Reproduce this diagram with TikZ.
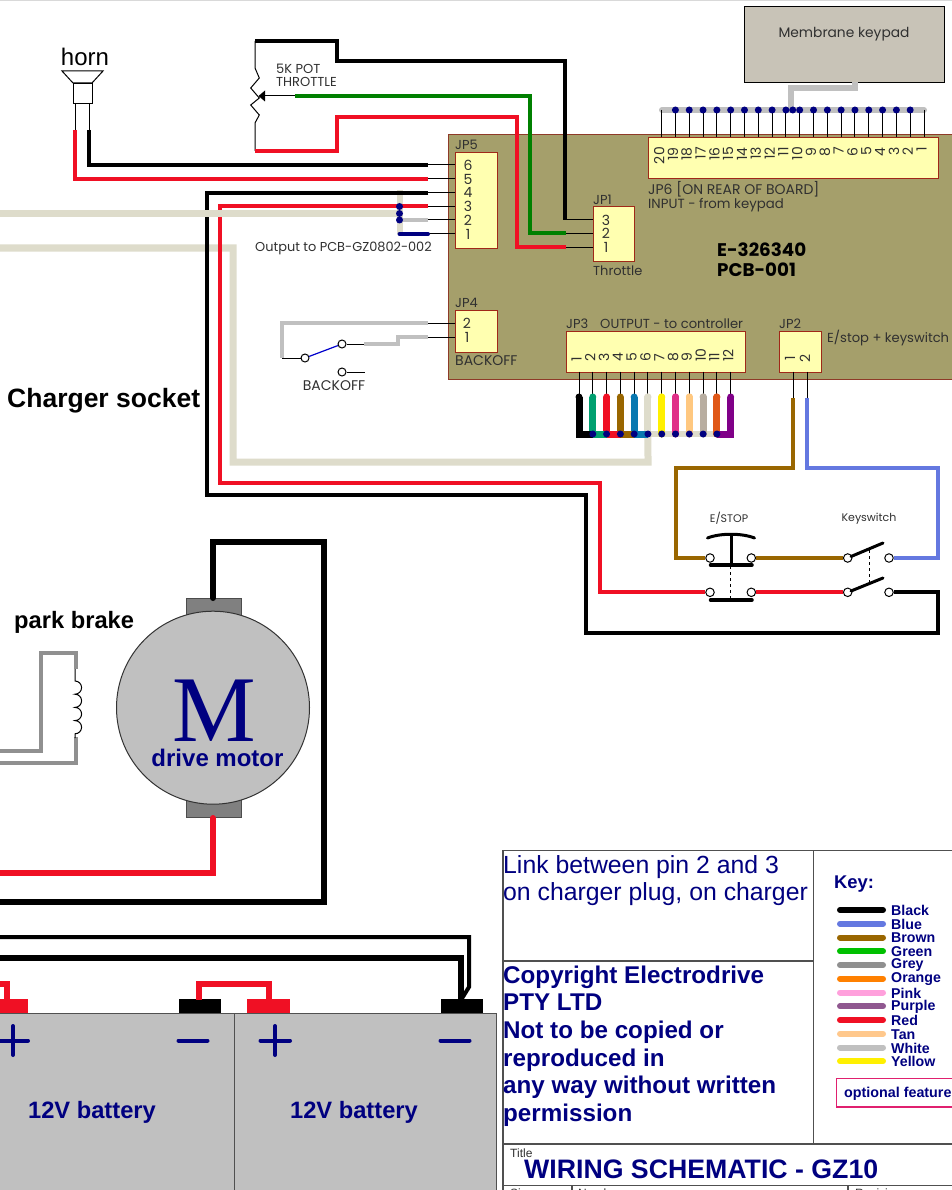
\documentclass[tikz,border=0pt]{standalone}
\usepackage{fontspec}
\setmainfont{Liberation Sans}
\newfontfamily\gothic{Poppins}
\newfontfamily\serifM{Liberation Serif}
\definecolor{pcb}{HTML}{A59F6B}
\definecolor{pcbedge}{HTML}{8E3A28}
\definecolor{hdr}{HTML}{FFFFB0}
\definecolor{hdredge}{HTML}{A02818}
\definecolor{kbd}{HTML}{C8C3B7}
\definecolor{lbl}{HTML}{303030}
\definecolor{navyx}{HTML}{000080}
\definecolor{wblack}{HTML}{000000}
\definecolor{wblue}{HTML}{6478E0}
\definecolor{wbrown}{HTML}{996600}
\definecolor{wgreen}{HTML}{008000}
\definecolor{kgreen}{HTML}{00C000}
\definecolor{wgrey}{HTML}{909090}
\definecolor{korange}{HTML}{FF8000}
\definecolor{kpink}{HTML}{FFA0DC}
\definecolor{kpurple}{HTML}{905890}
\definecolor{wred}{HTML}{F01024}
\definecolor{ktan}{HTML}{FFC88C}
\definecolor{wwhite}{HTML}{C0C0C0}
\definecolor{kyellow}{HTML}{FFF000}
\definecolor{beige}{HTML}{DEDCCB}
\definecolor{c3green}{HTML}{00A070}
\definecolor{c3blue}{HTML}{0878B0}
\definecolor{c3pink}{HTML}{E03088}
\definecolor{c3tan}{HTML}{FFC880}
\definecolor{c3grey}{HTML}{B8ADA0}
\definecolor{c3orange}{HTML}{E05818}
\definecolor{c3purple}{HTML}{800088}
\definecolor{rule}{HTML}{505050}
\definecolor{optedge}{HTML}{E0206F}
\tikzset{
  wire/.style={line width=4pt,line join=miter},
  fatwire/.style={line width=6pt,line join=miter},
  pinwire/.style={line width=1pt,black},
  hdrbox/.style={draw=hdredge,fill=hdr,line width=1pt,anchor=north west,inner sep=0pt},
  glbl/.style={font=\gothic\fontsize{13}{15}\selectfont,text=lbl,inner sep=0pt,anchor=west,yshift=-1pt},
  gnum/.style={font=\gothic\fontsize{14}{15}\selectfont,text=lbl,inner sep=0pt},
  dotn/.style={circle,fill=navyx,inner sep=0pt,minimum size=7pt},
  term/.style={circle,draw=black,fill=white,line width=1pt,inner sep=0pt,minimum size=8.5pt},
  keyline/.style={line width=6pt,line cap=round},
  navyb/.style={text=navyx,inner sep=0pt},
  gridline/.style={draw=rule,line width=1.2pt},
  blackterm/.style={fill=black,draw=none},
  redterm/.style={fill=wred,draw=none},
  sign/.style={line width=4pt,navyx,line cap=round},
}
\begin{document}
\begin{tikzpicture}[x=1pt,y=-1pt]
\useasboundingbox (0,0) rectangle (952,1190);
\clip (0,0) rectangle (952,1190);
\fill[white] (0,0) rectangle (952,1190);
\draw[line width=1pt,black!15] (0,0.5) -- (952,0.5);

% ---------- PCB ----------
\node (pcb) [draw=pcbedge,fill=pcb,line width=1pt,anchor=north west,inner sep=0pt,minimum width=520pt,minimum height=245pt] at (448,134) {};

% ---------- headers ----------
\node (jp5) [hdrbox,minimum width=42pt,minimum height=96pt] at (455,152) {};
\node (jp1) [hdrbox,minimum width=41.5pt,minimum height=54.5pt] at (592.7,206.5) {};
\node (jp6) [hdrbox,minimum width=290pt,minimum height=41pt] at (647.7,137.5) {};
\node (jp4) [hdrbox,minimum width=41.5pt,minimum height=42pt] at (455,310) {};
\node (jp3) [hdrbox,minimum width=179.5pt,minimum height=41pt] at (565.7,330.7) {};
\node (jp2) [hdrbox,minimum width=41.5pt,minimum height=41pt] at (779,330.7) {};
\node (keypad) [draw=black,fill=kbd,line width=1pt,anchor=north west,inner sep=0pt,minimum width=200pt,minimum height=75.5pt] at (744,6.5) {};

% ---------- pin anchors ----------
\foreach \n/\y in {6/165,5/179,4/192.7,3/206.5,2/220,1/234}{
  \coordinate (p5\n) at (455,\y);
  \coordinate (w5\n) at (428,\y);
  \draw[pinwire] (w5\n) -- (p5\n);
  \node (n5\n) [gnum] at (468,\y) {\n};
}
\foreach \n/\y in {3/220,2/233.5,1/247}{
  \coordinate (p1\n) at (592.7,\y);
  \coordinate (w1\n) at (566,\y);
  \draw[pinwire] (w1\n) -- (p1\n);
  \node (n1\n) [gnum] at (606,\y) {\n};
}
\foreach \n/\y in {2/323.3,1/337}{
  \coordinate (p4\n) at (455,\y);
  \coordinate (w4\n) at (428,\y);
  \draw[pinwire] (w4\n) -- (p4\n);
  \node (n4\n) [gnum] at (467,\y) {\n};
}

% ---------- JP6 pins ----------
\draw[line width=6pt,wwhite,line cap=round] (662,110) -- (924,110);
\draw[fatwire,wwhite] (855,82) -- (855,88) -- (791,88) -- (791,110);
\foreach \i in {1,...,20}{
  \pgfmathsetmacro\px{924-13.81*(\i-1)}
  \coordinate (b6\i) at (\px,110);
  \coordinate (p6\i) at (\px,137.5);
  \draw[pinwire] (b6\i) -- (p6\i);
  \node (n6\i) [gnum,rotate=90,anchor=east] at (\px-2.5,147) {\i};
}
\foreach \i in {2,...,19}{ \node (d6\i) [dotn] at (b6\i) {}; }
\node (d6k) [dotn] at (792.7,110) {};

% ---------- JP3 pins ----------
\foreach \i/\c in {1/black,2/c3green,3/wred,4/wbrown,5/c3blue,6/beige,7/kyellow,8/c3pink,9/c3tan,10/c3grey,11/c3orange,12/c3purple}{
  \pgfmathsetmacro\px{579+13.79*(\i-1)}
  \coordinate (p3\i) at (\px,371.7);
  \coordinate (c3\i) at (\px,397);
  \coordinate (e3\i) at (\px,434);
  \draw[pinwire] (p3\i) -- (c3\i);
  \node (n3\i) [gnum,rotate=90,anchor=west] at (\px-2.5,362) {\i};
}
\draw[line width=6pt,beige] (e36) -- (e311);
\draw[line width=7pt,line join=miter,beige] (e36) -- (648,462) -- (233,462) -- (233,248) -- (0,248);
\foreach \i/\c in {7/kyellow,8/c3pink,9/c3tan,10/c3grey,11/c3orange}{
  \draw[line width=7pt,\c,line cap=round] (e3\i) -- (c3\i);
}
\draw[line width=7pt,beige,line cap=round] (e36) -- (c36);
\draw[line width=7pt,line join=miter,c3blue] (e36) -- (e35) -- (c35);
\draw[line width=7pt,line join=miter,wbrown] (e35) -- (e34) -- (c34);
\draw[line width=7pt,line join=miter,wred] (e34) -- (e33) -- (c33);
\draw[line width=7pt,line join=miter,c3green] (e33) -- (e32) -- (c32);
\draw[line width=7pt,line join=miter,black] (e32) -- (e31) -- (c31);
\draw[line width=7pt,line join=miter,c3purple] (e311) -- (e312) -- (c312);
\foreach \i/\c in {1/black,2/c3green,3/wred,4/wbrown,5/c3blue,6/beige,7/kyellow,8/c3pink,9/c3tan,10/c3grey,11/c3orange,12/c3purple}{
  \fill[\c] (c3\i) circle (3.5pt);
}
\foreach \i in {2,...,11}{ \node (d3\i) [dotn] at (e3\i) {}; }

% ---------- JP2 pins ----------
\coordinate (p21) at (793,371.7);
\coordinate (p22) at (807,371.7);
\coordinate (w21) at (793,398);
\coordinate (w22) at (807,398);
\draw[pinwire] (p21) -- (w21);
\draw[pinwire] (p22) -- (w22);
\node (n21) [gnum,rotate=90] at (790,358) {1};
\node (n22) [gnum,rotate=90] at (805,358) {2};

% ---------- switches ----------
\node (es1) [term] at (710,558) {};
\node (es2) [term] at (751.3,558) {};
\node (es3) [term] at (710,592.3) {};
\node (es4) [term] at (751.3,592.3) {};
\node (ks1) [term] at (847.7,558) {};
\node (ks2) [term] at (889,558) {};
\node (ks3) [term] at (847.7,592.3) {};
\node (ks4) [term] at (889,592.3) {};

% ---------- wires ----------
\draw[wire,wbrown] (w21) -- (793,468) -- (676,468) -- (676,558) -- (es1);
\draw[wire,wbrown] (es2) -- (ks1);
\draw[wire,wblue] (w22) -- (807,468) -- (938,468) -- (938,558) -- (ks2);
\draw[wire,wred] (w53) -- (220,206.5) -- (220,483) -- (600,483) -- (600,592.3) -- (es3);
\draw[wire,wred] (es4) -- (ks3);
\draw[wire,black] (w54) -- (207,192.7) -- (207,495) -- (586,495) -- (586,633) -- (938,633) -- (938,592.3) -- (ks4);

% charger lines
\draw[line width=7pt,beige] (0,213.5) -- (399.5,213.5);
\draw[line width=6pt,beige] (399.5,190) -- (399.5,234);
\draw[wire,black] (w54) -- (207,192.7);
\draw[wire,wred] (w53) -- (220,206.5);
\draw[wire,wwhite] (w52) -- (399.5,220);
\draw[wire,navyx,line cap=round] (w51) -- (399.5,234);
\node (dc3) [dotn] at (399.5,206.5) {};
\node (dc2) [dotn] at (399.5,213.5) {};
\node (dc1) [dotn] at (399.5,220) {};

% horn
\coordinate (h1) at (75,103);
\coordinate (h2) at (89,103);
\draw[line width=1pt] (62,71) -- (103,71) -- (92,83) -- (73,83) -- cycle;
\node (hornbox) [draw=black,line width=1pt,anchor=north west,inner sep=0pt,minimum width=19pt,minimum height=20pt] at (73,83.5) {};
\draw[pinwire] (h1) -- (75,130);
\draw[pinwire] (h2) -- (89,130);
\draw[wire,wred] (75,130) -- (75,179) -- (w55);
\draw[wire,black] (89,130) -- (89,165) -- (w56);

% pot
\coordinate (pota) at (255,41);
\coordinate (potb) at (255,151);
\draw[pinwire] (pota) -- (255,68) -- (259.3,78) -- (250.7,88) -- (259.3,98) -- (250.7,105) -- (259.3,115) -- (255,123) -- (potb);
\fill[black] (258.5,96) -- (265,90.5) -- (265,101.5) -- cycle;
\draw[pinwire] (265,96) -- (295,96);
\draw[wire,black] (pota) -- (337,41) -- (337,61) -- (565,61) -- (565,220);
\draw[wire,wgreen] (295,96) -- (530,96) -- (530,233.5) -- (w12);
\draw[wire,wred] (potb) -- (337,151) -- (337,117) -- (517,117) -- (517,247) -- (w11);

% backoff
\node (bo1) [term,minimum size=8pt] at (305,358) {};
\node (bo2) [term,minimum size=8pt] at (342,344) {};
\node (bo3) [term,minimum size=8pt] at (342,372) {};
\draw[line width=1.2pt,blue!80!black] (bo1) -- (bo2);
\draw[pinwire] (bo1) -- (282,358);
\draw[pinwire] (bo2) -- (364,344);
\draw[pinwire] (bo3) -- (365,372);
\draw[wire,wwhite] (w42) -- (282,323.3) -- (282,358);
\draw[wire,wwhite] (w41) -- (398,337) -- (398,344) -- (364,344);

% E/STOP + keyswitch mechanics
\draw[line width=3pt,line cap=round] (707.5,538) .. controls (720,533) and (742,533) .. (754.5,538);
\draw[line width=3pt] (731,536) -- (731,564);
\draw[line width=3.5pt,line cap=round] (710.5,565) -- (752,565);
\draw[line width=3.5pt,line cap=round] (710.5,600) -- (752,600);
\draw[line width=1pt,dashed] (730.6,566) -- (730.6,599);
\draw[line width=3pt,line cap=round] (851,556.5) -- (883,543);
\draw[line width=3pt,line cap=round] (851,591) -- (883,578);
\draw[line width=1pt,dashed] (869,550) -- (869,583);

% motor
\node (mtop) [draw=black!70,fill=black!50,line width=1pt,anchor=north west,inner sep=0pt,minimum width=55.5pt,minimum height=30pt] at (185.7,597.7) {};
\node (mbot) [draw=black!70,fill=black!50,line width=1pt,anchor=south west,inner sep=0pt,minimum width=55.5pt,minimum height=30pt] at (185.7,818) {};
\node (motor) [circle,draw=black!80,fill=wwhite,line width=1pt,inner sep=0pt,minimum size=193pt] at (213,707.7) {};
\node (mM) [text=navyx,inner sep=0pt,font=\serifM\fontsize{94}{94}\selectfont] at (214,711) {M};
\node (mlabel) [navyb,font=\bfseries\fontsize{24}{27}\selectfont] at (217.5,758) {drive motor};
\draw[fatwire,black,line cap=round] (213,598) -- (213,542) -- (324,542) -- (324,902) -- (-5,902);
\draw[fatwire,wred,line cap=round] (213,818) -- (213,873) -- (-5,873);

% park brake
\draw[wire,wgrey] (0,751) -- (41,751) -- (41,653) -- (76,653) -- (76,669);
\draw[wire,wgrey] (0,763) -- (76,763) -- (76,737);
\draw[line width=1pt] (75,669) -- (75,681)
  arc[start angle=90,end angle=-90,radius=6.6pt]
  arc[start angle=90,end angle=-90,radius=6.6pt]
  arc[start angle=90,end angle=-90,radius=6.6pt]
  arc[start angle=90,end angle=-90,radius=6.6pt] -- (75,738);

% batteries
\node (bat1) [draw=rule,fill=wwhite,line width=1pt,anchor=north west,inner sep=0pt,minimum width=244pt,minimum height=190pt] at (-10,1012.7) {};
\node (bat2) [draw=rule,fill=wwhite,line width=1pt,anchor=north west,inner sep=0pt,minimum width=262pt,minimum height=190pt] at (234,1012.7) {};
\node (t1p) [redterm,anchor=south west,inner sep=0pt,minimum width=38pt,minimum height=13.5pt] at (-10,1012.7) {};
\node (t1n) [blackterm,anchor=south west,inner sep=0pt,minimum width=42.5pt,minimum height=13.5pt] at (178.5,1012.7) {};
\node (t2p) [redterm,anchor=south west,inner sep=0pt,minimum width=43pt,minimum height=13.5pt] at (247,1012.7) {};
\node (t2n) [blackterm,anchor=south west,inner sep=0pt,minimum width=42.5pt,minimum height=13.5pt] at (440.7,1012.7) {};
\draw[fatwire,wred] (199,999.5) -- (199,984) -- (269,984) -- (269,999.5);
\draw[fatwire,wred] (-5,984) -- (7,984) -- (7,999.5);
\draw[wire,black] (-5,937) -- (469,937) -- (469,987) -- (461,1000);
\draw[fatwire,black] (-5,958) -- (461,958) -- (461,1000);
\draw[sign] (-2,1040.5) -- (28,1040.5); \draw[sign] (13,1026) -- (13,1055);
\draw[sign] (260.5,1040.5) -- (290,1040.5); \draw[sign] (275,1026) -- (275,1055);
\draw[sign] (178.5,1040.5) -- (207.5,1040.5);
\draw[sign] (440.5,1040.5) -- (469.5,1040.5);
\node (bl1) [navyb,font=\bfseries\fontsize{23.7}{26}\selectfont] at (92,1112) {12V battery};
\node (bl2) [navyb,font=\bfseries\fontsize{23.7}{26}\selectfont] at (354,1112) {12V battery};

% title block
\draw[gridline] (503,1190) -- (503,850.7) -- (952,850.7);
\draw[gridline] (813.3,850.7) -- (813.3,1144);
\draw[gridline] (503,961) -- (813.3,961);
\draw[gridline] (503,1144) -- (952,1144);
\draw[gridline] (503,1185.7) -- (952,1185.7);
\draw[gridline] (572,1185.7) -- (572,1190);
\draw[gridline] (848,1185.7) -- (848,1190);
\node (link) [navyb,anchor=north west,align=left,font=\fontsize{24.8}{27}\selectfont] at (503,855) {Link between pin 2 and 3\\on charger plug, on charger};
\node (copy) [navyb,anchor=north west,align=left,font=\bfseries\fontsize{24.2}{27.6}\selectfont] at (503,965.5) {Copyright Electrodrive\\PTY LTD\\Not to be copied or\\reproduced in\\any way without written\\permission};
\node (keyh) [navyb,anchor=west,font=\bfseries\fontsize{18.4}{20}\selectfont] at (834,884) {Key:};
\foreach \c/\t [count=\k] in {black/Black,wblue/Blue,wbrown/Brown,kgreen/Green,wgrey/Grey,korange/Orange,kpink/Pink,kpurple/Purple,wred/Red,ktan/Tan,wwhite/White,kyellow/Yellow}{
  \pgfmathsetmacro\ky{910+13.75*(\k-1)}
  \coordinate (kl\k) at (840,\ky);
  \coordinate (kr\k) at (883,\ky);
  \draw[keyline,\c] (kl\k) -- (kr\k);
  \node (kt\k) [navyb,anchor=west,font=\bfseries\fontsize{14.2}{15}\selectfont] at (891,\ky+0.5) {\t};
}
\draw[optedge,line width=1.3pt] (836.7,1078.7) rectangle (970,1107);
\node (optt) [navyb,anchor=west,font=\bfseries\fontsize{14.3}{15}\selectfont] at (844,1093.5) {optional feature};
\node (titlel) [text=lbl,inner sep=0pt,anchor=west,font=\fontsize{12}{13}\selectfont] at (510,1153) {Title};
\node (title) [navyb,anchor=west,font=\bfseries\fontsize{26.7}{28}\selectfont] at (524,1169.5) {WIRING SCHEMATIC - GZ10};
\node (sz) [text=lbl,inner sep=0pt,anchor=base west,font=\fontsize{12}{13}\selectfont] at (510,1197) {Size};
\node (nm) [text=lbl,inner sep=0pt,anchor=base west,font=\fontsize{12}{13}\selectfont] at (578,1197) {Number};
\node (rv) [text=lbl,inner sep=0pt,anchor=base west,font=\fontsize{12}{13}\selectfont] at (855,1197) {Revision};

% labels
\node (hornl) [inner sep=0pt,text=black,font=\fontsize{24}{26}\selectfont] at (85,57) {horn};
\node (potl) [glbl,align=left,font=\gothic\fontsize{13}{13.5}\selectfont] at (276,74.5) {5K POT\\THROTTLE};
\node (chg) [inner sep=0pt,anchor=west,font=\bfseries\fontsize{26.5}{28}\selectfont] at (7,400.5) {Charger socket};
\node (park) [inner sep=0pt,anchor=west,font=\bfseries\fontsize{23.7}{26}\selectfont] at (14,622) {park brake};
\node (out) [glbl,font=\gothic\fontsize{12.9}{15}\selectfont] at (255,247) {Output to PCB-GZ0802-002};
\node (mk) [glbl,anchor=center,font=\gothic\fontsize{13.8}{15}\selectfont] at (844,33) {Membrane keypad};
\node (l5) [glbl] at (455,144) {JP5};
\node (l1) [glbl] at (593,199) {JP1};
\node (thr) [glbl] at (593,270) {Throttle};
\node (l61) [glbl,font=\gothic\fontsize{14}{15}\selectfont] at (648,188) {JP6 [ON REAR OF BOARD]};
\node (l62) [glbl,font=\gothic\fontsize{13.3}{15}\selectfont] at (648,204) {INPUT - from keypad};
\node (pcbn) [inner sep=0pt,anchor=north west,align=left,font=\gothic\bfseries\fontsize{18.3}{20}\selectfont] at (717,243) {E-326340\\PCB-001};
\node (l4) [glbl] at (455,302) {JP4};
\node (l4b) [glbl,font=\gothic\fontsize{14}{15}\selectfont] at (455,360) {BACKOFF};
\node (l3) [glbl] at (566,323) {JP3};
\node (l3b) [glbl,font=\gothic\fontsize{13.1}{15}\selectfont] at (600,323) {OUTPUT - to controller};
\node (l2) [glbl] at (779,323) {JP2};
\node (l2b) [glbl,font=\gothic\fontsize{13.1}{15}\selectfont] at (827,337) {E/stop + keyswitch};
\node (bol) [glbl,anchor=center,font=\gothic\fontsize{14}{15}\selectfont] at (334,385) {BACKOFF};
\node (esl) [glbl,font=\gothic\fontsize{11}{13}\selectfont,anchor=center] at (729,517) {E/STOP};
\node (ksl) [glbl,font=\gothic\fontsize{11}{13}\selectfont,anchor=center] at (869,518) {Keyswitch};
\end{tikzpicture}
\end{document}
